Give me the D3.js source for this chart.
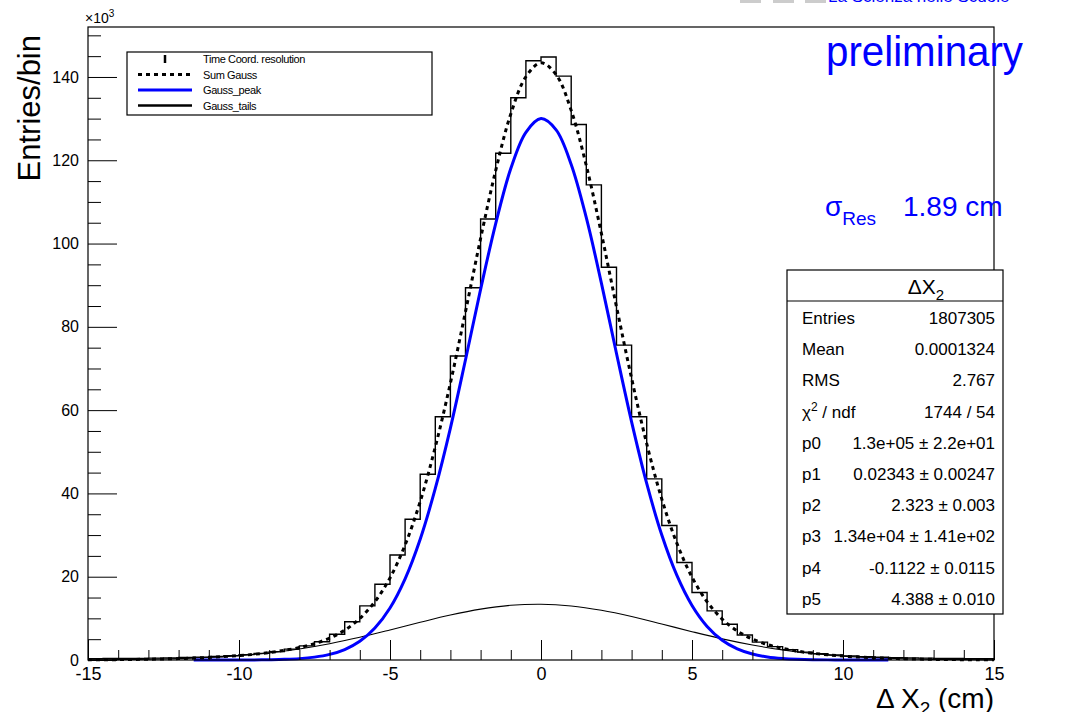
<!DOCTYPE html>
<html>
<head>
<meta charset="utf-8">
<script src="https://cdn.jsdelivr.net/npm/d3@7"></script>
<style>
body { margin: 0; background: #fff; }
svg text { font-family: "Liberation Sans", Arial, Helvetica, sans-serif; }
</style>
</head>
<body>
<div id="chart"></div>
<script>
// histogram: 60 bins of 0.5 cm from -15 to 15, counts in units of 10^3
var binLows = d3.range(-15, 15, 0.5);
var histCounts = [
  0.3, 0.35, 0.35, 0.4, 0.45, 0.5, 0.6, 0.7, 0.85, 1.05,
  1.3, 1.6, 2.0, 2.6, 3.4, 4.4, 6.2, 9.2, 13.0, 18.2,
  25.2, 33.8, 44.6, 58.4, 73.0, 89.4, 105.9, 121.7, 135.0, 143.9,
  144.8, 140.2, 128.6, 114.1, 94.3, 75.6, 58.4, 43.5, 32.3, 23.4,
  16.2, 11.8, 8.6, 6.0, 4.3, 3.2, 2.5, 1.9, 1.5, 1.2,
  1.0, 0.8, 0.65, 0.55, 0.5, 0.45, 0.4, 0.35, 0.3, 0.3
];

// fit curves (10^3)
var peakX = d3.range(-11.5, 11.75, 0.5);
var peakY = [
  0.0, 0.0, 0.0, 0.0, 0.01, 0.07, 0.16, 0.33, 0.69, 1.35,
  2.52, 4.51, 7.70, 12.5, 19.5, 29.0, 41.2, 55.7, 72.1, 89.0,
  104.8, 118.0, 126.7, 130.0, 127.3, 119.0, 106.2, 90.5, 73.6, 57.2,
  42.4, 30.0, 20.3, 13.1, 8.07, 4.75, 2.67, 1.43, 0.73, 0.36,
  0.17, 0.07, 0.03, 0.01, 0.0, 0.0, 0.0
];
var tailsX = d3.range(-15, 15.5, 1);
var tailsY = [
  0.04, 0.09, 0.18, 0.34, 0.62, 1.06, 1.72, 2.66, 3.91, 5.45,
  7.21, 9.05, 10.79, 12.21, 13.13, 13.40, 12.98, 11.93, 10.43, 8.64,
  6.80, 5.07, 3.60, 2.43, 1.55, 0.94, 0.54, 0.30, 0.15, 0.08, 0.04
];
var sumX = d3.range(-15, 15.25, 0.5);
var sumY = [
  0.04, 0.06, 0.09, 0.13, 0.18, 0.25, 0.34, 0.46, 0.62, 0.81,
  1.06, 1.37, 1.79, 2.32, 2.99, 3.93, 5.26, 7.16, 9.96, 14.01,
  19.71, 27.63, 38.05, 51.15, 66.49, 83.65, 101.21, 117.55, 131.13, 140.05,
  143.40,
  140.57, 131.98, 118.73, 102.43, 84.82, 67.63, 51.95, 38.64, 28.01, 19.90,
  13.99, 9.82, 6.97, 5.03, 3.70, 2.79, 2.12, 1.62, 1.25, 0.95,
  0.72, 0.54, 0.41, 0.30, 0.22, 0.15, 0.11, 0.08, 0.05, 0.04
];

var xMajor = [-15, -10, -5, 0, 5, 10, 15];
var yMajor = [0, 20, 40, 60, 80, 100, 120, 140];

var legendLabels = ["Time Coord. resolution", "Sum Gauss", "Gauss_peak", "Gauss_tails"];
var statLabels = ["Entries", "Mean", "RMS", "\u03c7\u00b2 / ndf", "p0", "p1", "p2", "p3", "p4", "p5"];
var statValues = ["1807305", "0.0001324", "2.767", "1744 / 54",
  "1.3e+05 \u00b1 2.2e+01", "0.02343 \u00b1 0.00247", "2.323 \u00b1 0.003",
  "1.34e+04 \u00b1 1.41e+02", "-0.1122 \u00b1 0.0115", "4.388 \u00b1 0.010"];

var svgWidth = 1090;
var svgHeight = 712;
var margin = { top: 27, right: 96, bottom: 52, left: 88 };

var svg = d3.select("#chart")
  .append("svg")
  .attr("width", svgWidth)
  .attr("height", svgHeight);

var x = d3.scaleLinear().domain([-15, 15]).range([margin.left, svgWidth - margin.right]);
var y = d3.scaleLinear().domain([0, 152]).range([svgHeight - margin.bottom, margin.top]);
var y0 = y(0);

// "La Scienza nelle Scuole" banner, cut at the top
[740, 773, 805].forEach(function(bx) {
  svg.append("rect").attr("x", bx).attr("y", 0).attr("width", 21).attr("height", 3).attr("fill", "#cccccc");
});
svg.append("text").attr("x", 828).attr("y", 2).attr("font-size", 17).attr("fill", "#0000ff")
  .text("La Scienza nelle Scuole");

// histogram
var histPts = binLows.map(function(b, i) { return [b, histCounts[i]]; });
histPts.push([15, histCounts[histCounts.length - 1]]);
svg.append("path")
  .attr("d", d3.line().x(d => x(d[0])).y(d => y(d[1])).curve(d3.curveStepAfter)(histPts))
  .attr("fill", "none").attr("stroke", "#000").attr("stroke-width", 1.4);

var curve = d3.line().x(d => x(d[0])).y(d => y(d[1])).curve(d3.curveCatmullRom);

svg.append("path")
  .attr("d", curve(tailsX.map((v, i) => [v, tailsY[i]])))
  .attr("fill", "none").attr("stroke", "#000").attr("stroke-width", 1.1);

svg.append("path")
  .attr("d", curve(peakX.map((v, i) => [v, peakY[i]])))
  .attr("fill", "none").attr("stroke", "#0000ff").attr("stroke-width", 3);

svg.append("path")
  .attr("d", curve(sumX.map((v, i) => [v, sumY[i]])))
  .attr("fill", "none").attr("stroke", "#000").attr("stroke-width", 3)
  .attr("stroke-dasharray", "4,4");

// axes, ticks pointing into the frame
function styleAxis(g, size) {
  g.select(".domain").remove();
  g.selectAll("line").attr("stroke", "#000").attr("stroke-width", 1);
  g.selectAll("text").attr("font-size", size).attr("fill", "#000")
    .attr("font-family", "Liberation Sans, Arial, Helvetica, sans-serif");
}

svg.append("g").attr("transform", `translate(0,${y0})`)
  .call(d3.axisBottom(x).tickValues(d3.range(-15, 16, 1).filter(d => d % 5 !== 0)).tickSize(-10).tickFormat(""))
  .call(g => styleAxis(g, 0));
svg.append("g").attr("transform", `translate(0,${y0})`)
  .call(d3.axisBottom(x).tickValues(xMajor).tickSize(-20).tickPadding(7).tickFormat(d => String(d)))
  .call(g => styleAxis(g, 18));

svg.append("g").attr("transform", `translate(${margin.left},0)`)
  .call(d3.axisLeft(y).tickValues(d3.range(0, 152, 5).filter(d => d % 20 !== 0)).tickSize(-13).tickFormat(""))
  .call(g => styleAxis(g, 0));
svg.append("g").attr("transform", `translate(${margin.left},0)`)
  .call(d3.axisLeft(y).tickValues(yMajor).tickSize(-29).tickPadding(9).tickFormat(d => String(d)))
  .call(g => styleAxis(g, 16));

// frame
svg.append("rect")
  .attr("x", margin.left).attr("y", margin.top)
  .attr("width", x(15) - x(-15)).attr("height", y0 - margin.top)
  .attr("fill", "none").attr("stroke", "#000").attr("stroke-width", 1.2);

// axis titles
var xt = svg.append("text").attr("x", x(15)).attr("y", 708).attr("text-anchor", "end")
  .attr("font-size", 28).attr("fill", "#000");
xt.append("tspan").text("\u0394 X");
xt.append("tspan").attr("font-size", 19).attr("dy", 7).text("2");
xt.append("tspan").attr("dy", -7).text(" (cm)");

svg.append("text").attr("transform", "translate(40,35) rotate(-90)")
  .attr("text-anchor", "end").attr("font-size", 31).attr("fill", "#000")
  .text("Entries/bin");

var ex = svg.append("text").attr("x", 85).attr("y", 23).attr("font-size", 14).attr("fill", "#000");
ex.append("tspan").text("\u00d710");
ex.append("tspan").attr("font-size", 10).attr("dy", -6).text("3");

// preliminary / sigma labels
svg.append("text").attr("x", 826).attr("y", 66).attr("font-size", 42).attr("fill", "#0000ff")
  .attr("textLength", 197).attr("lengthAdjust", "spacingAndGlyphs")
  .text("preliminary");
var sg = svg.append("text").attr("x", 825).attr("y", 216).attr("font-size", 28).attr("fill", "#0000ff");
sg.append("tspan").text("\u03c3");
sg.append("tspan").attr("font-size", 19).attr("dy", 9).text("Res");
sg.append("tspan").attr("x", 903).attr("dy", -9).text("1.89 cm");

// legend
var leg = svg.append("g");
leg.append("rect").attr("x", 127).attr("y", 52).attr("width", 305).attr("height", 63)
  .attr("fill", "#fff").attr("stroke", "#000").attr("stroke-width", 1.2);
var legRowY = [59, 74.5, 90, 105.5];
legendLabels.forEach(function(lab, i) {
  leg.append("text").attr("x", 203).attr("y", legRowY[i] + 4).attr("font-size", 11)
    .attr("letter-spacing", -0.4).attr("fill", "#000").text(lab);
});
leg.append("line").attr("x1", 165).attr("x2", 165).attr("y1", legRowY[0] - 4).attr("y2", legRowY[0] + 4)
  .attr("stroke", "#000").attr("stroke-width", 2.5);
leg.append("line").attr("x1", 138).attr("x2", 192).attr("y1", legRowY[1]).attr("y2", legRowY[1])
  .attr("stroke", "#000").attr("stroke-width", 3).attr("stroke-dasharray", "4,4");
leg.append("line").attr("x1", 138).attr("x2", 192).attr("y1", legRowY[2]).attr("y2", legRowY[2])
  .attr("stroke", "#0000ff").attr("stroke-width", 3);
leg.append("line").attr("x1", 138).attr("x2", 192).attr("y1", legRowY[3]).attr("y2", legRowY[3])
  .attr("stroke", "#000").attr("stroke-width", 2.5);

// stats box
var st = svg.append("g");
st.append("rect").attr("x", 787).attr("y", 270).attr("width", 216).attr("height", 344)
  .attr("fill", "#fff").attr("stroke", "#000").attr("stroke-width", 1.2);
st.append("line").attr("x1", 787).attr("x2", 1003).attr("y1", 301).attr("y2", 301)
  .attr("stroke", "#000").attr("stroke-width", 1.2);
var ht = st.append("text").attr("x", 926).attr("y", 294).attr("text-anchor", "middle")
  .attr("font-size", 21).attr("fill", "#000");
ht.append("tspan").text("\u0394X");
ht.append("tspan").attr("font-size", 15).attr("dy", 6).text("2");
statLabels.forEach(function(lab, i) {
  var ry = 318 + i * 31.2 + 6;
  var t = st.append("text").attr("x", 802).attr("y", ry).attr("font-size", 17).attr("fill", "#000");
  if (i === 3) {
    t.append("tspan").text("\u03c7");
    t.append("tspan").attr("font-size", 12).attr("dy", -7).text("2");
    t.append("tspan").attr("dy", 7).text(" / ndf");
  } else {
    t.text(lab);
  }
  st.append("text").attr("x", 995).attr("y", ry).attr("text-anchor", "end")
    .attr("font-size", 17).attr("fill", "#000").text(statValues[i]);
});
</script>
</body>
</html>
